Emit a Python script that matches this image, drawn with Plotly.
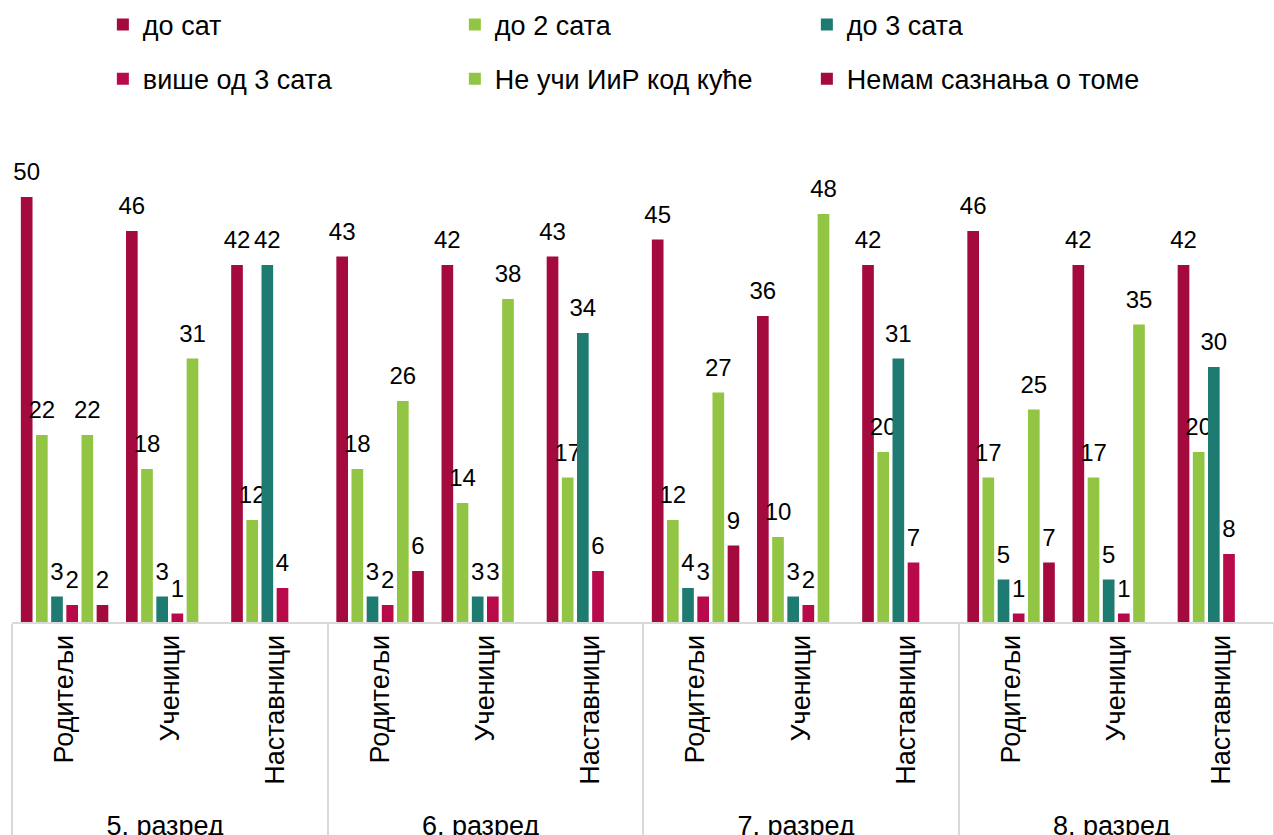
import plotly.graph_objects as go

grades = ["5. разред", "6. разред", "7. разред", "8. разред"]
respondents = ["Родитељи", "Ученици", "Наставници"]

series_names = ["до сат", "до 2 сата", "до 3 сата", "више од 3 сата",
                "Не учи ИиР код куће", "Немам сазнања о томе"]

# values per group: 5.Р, 5.У, 5.Н, 6.Р, 6.У, 6.Н, 7.Р, 7.У, 7.Н, 8.Р, 8.У, 8.Н
do_sat =     [50, 46, 42, 43, 42, 43, 45, 36, 42, 46, 42, 42]
do_2_sata =  [22, 18, 12, 18, 14, 17, 12, 10, 20, 17, 17, 20]
do_3_sata =  [3, 3, 42, 3, 3, 34, 4, 3, 31, 5, 5, 30]
vise_od_3 =  [2, 1, 4, 2, 3, 6, 3, 2, 7, 1, 1, 8]
ne_uci =     [22, 31, None, 26, 38, None, 27, 48, None, 25, 35, None]
nemam =      [2, None, None, 6, None, None, 9, None, None, 7, None, None]

series_values = [do_sat, do_2_sata, do_3_sata, vise_od_3, ne_uci, nemam]
colors = ["#A50A3E", "#92C544", "#1E7B72", "#B8094A", "#92C544", "#A50A3E"]

x_outer = [g for g in grades for _ in respondents]
x_inner = [r for _ in grades for r in respondents]

FONT = "Arial, 'Liberation Sans', sans-serif"
LABEL_GAP = 1.0  # gap between bar top and its value label, in data units

fig = go.Figure()
for i, (name, vals, col) in enumerate(zip(series_names, series_values, colors)):
    fig.add_trace(go.Bar(
        x=[x_outer, x_inner], y=vals, name=name,
        offsetgroup=str(i),
        marker=dict(color=col, line=dict(width=0)),
        legend="legend" if i < 3 else "legend2",
        hoverinfo="y+name",
    ))
    # value labels, a little above each bar in the same slot
    fig.add_trace(go.Bar(
        x=[x_outer, x_inner],
        y=[None if v is None else 0.001 for v in vals],
        base=[None if v is None else v + LABEL_GAP for v in vals],
        offsetgroup=str(i),
        marker=dict(color="rgba(0,0,0,0)", line=dict(width=0)),
        text=[("" if v is None else str(v)) for v in vals],
        textposition="outside", constraintext="none", cliponaxis=False,
        textfont=dict(family=FONT, size=24, color="#000000"),
        showlegend=False, hoverinfo="skip",
    ))

legend_common = dict(orientation="h", xanchor="left", yanchor="middle",
                     entrywidth=307, entrywidthmode="pixels",
                     font=dict(family=FONT, size=27, color="#000000"),
                     bgcolor="rgba(0,0,0,0)", itemclick=False)

fig.update_layout(
    width=1274, height=835,
    margin=dict(l=12, r=0, t=129, b=213, autoexpand=False),
    paper_bgcolor="white", plot_bgcolor="white",
    barmode="group", bargap=0.135, bargroupgap=0.23,
    showlegend=True,
    legend=dict(x=0.072, y=1.211, **legend_common),
    legend2=dict(x=0.072, y=1.101, **legend_common),
    xaxis=dict(type="multicategory", tickangle=-90,
               showline=True, linecolor="#D9D9D9", linewidth=2,
               showdividers=True, dividercolor="#D9D9D9", dividerwidth=2,
               ticks="", tickfont=dict(family=FONT, size=27, color="#000000")),
    yaxis=dict(range=[0, 58], visible=False, showgrid=False, zeroline=False),
    font=dict(family=FONT),
)

fig.write_html("out.html")
